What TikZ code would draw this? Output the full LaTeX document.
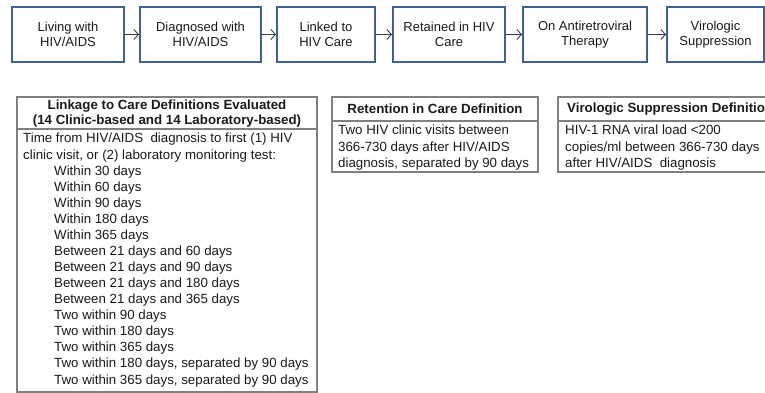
\documentclass[tikz,border=0pt]{standalone}
\usepackage{fontspec}
\setmainfont{Liberation Sans}
\usetikzlibrary{arrows.meta}
\definecolor{boxblue}{HTML}{3F6190}
\definecolor{boxgray}{HTML}{808080}
\definecolor{arrowgray}{HTML}{404040}
\definecolor{txt}{HTML}{1A1A1A}
\newcommand\listindent{\hspace*{31pt}}
\tikzset{
 stagebox/.style={draw=boxblue, line width=2pt, rectangle, minimum height=55pt, align=center, inner sep=0pt, text=txt, font=\fontsize{13}{15}\selectfont},
 flowarrow/.style={draw=arrowgray, line width=0.9pt, -{Straight Barb[length=4.5pt,width=10pt]}},
 defbox/.style={draw=boxgray, line width=1.2pt},
 headtext/.style={font=\fontsize{13.3}{15}\selectfont\bfseries, align=center, inner sep=0pt, text=txt},
 bodytext/.style={font=\fontsize{13.3}{16.07}\selectfont, align=left, inner sep=0pt, anchor=north west, text=txt},
}
\begin{document}
\begin{tikzpicture}[x=1pt,y=-1pt]
\clip (0,0) rectangle (765,393);
% stage boxes
\node[stagebox, minimum width=112pt] (s1) at (68,34.5) {Living with\\HIV/AIDS};
\node[stagebox, minimum width=121pt] (s2) at (200.5,34.5) {Diagnosed with\\HIV/AIDS};
\node[stagebox, minimum width=98pt] (s3) at (326,34.5) {Linked to\\HIV Care};
\node[stagebox, minimum width=112pt] (s4) at (449,34.5) {Retained in HIV\\Care};
\node[stagebox, minimum width=124pt] (s5) at (585,34.5) {On Antiretroviral\\Therapy};
\node[stagebox, minimum width=97pt] (s6) at (715.5,34.5) {Virologic\\Suppression};
\draw[flowarrow] (s1) -- (s2);
\draw[flowarrow] (s2) -- (s3);
\draw[flowarrow] (s3) -- (s4);
\draw[flowarrow] (s4) -- (s5);
\draw[flowarrow] (s5) -- (s6);
% linkage box
\draw[defbox] (17,97) rectangle (317,392);
\draw[defbox] (17,129) -- (317,129);
\node[headtext] (lhead) at (167,114) {Linkage to Care Definitions Evaluated\\(14 Clinic-based and 14 Laboratory-based)};
\node[bodytext] (lbody) at (23,131.5) {\strut Time from HIV/AIDS\ \ diagnosis to first (1) HIV\\
clinic visit, or (2) laboratory monitoring test:\\
\listindent Within 30 days\\
\listindent Within 60 days\\
\listindent Within 90 days\\
\listindent Within 180 days\\
\listindent Within 365 days\\
\listindent Between 21 days and 60 days\\
\listindent Between 21 days and 90 days\\
\listindent Between 21 days and 180 days\\
\listindent Between 21 days and 365 days\\
\listindent Two within 90 days\\
\listindent Two within 180 days\\
\listindent Two within 365 days\\
\listindent Two within 180 days, separated by 90 days\\
\listindent Two within 365 days, separated by 90 days};
% retention box
\draw[defbox] (332,97) rectangle (538,172);
\draw[defbox] (332,121) -- (538,121);
\node[headtext] (rhead) at (435,109) {Retention in Care Definition};
\node[bodytext] (rbody) at (338,123.5) {\strut Two HIV clinic visits between\\366-730 days after HIV/AIDS\\diagnosis, separated by 90 days};
% virologic box
\draw[defbox] (558,97) rectangle (785,172);
\draw[defbox] (558,121) -- (785,121);
\node[headtext, anchor=west] (vhead) at (567,109) {Virologic Suppression Definition};
\node[bodytext] (vbody) at (565,123.5) {\strut HIV-1 RNA viral load <200\\copies/ml between 366-730 days\\after HIV/AIDS\ \ diagnosis};
\end{tikzpicture}
\end{document}
